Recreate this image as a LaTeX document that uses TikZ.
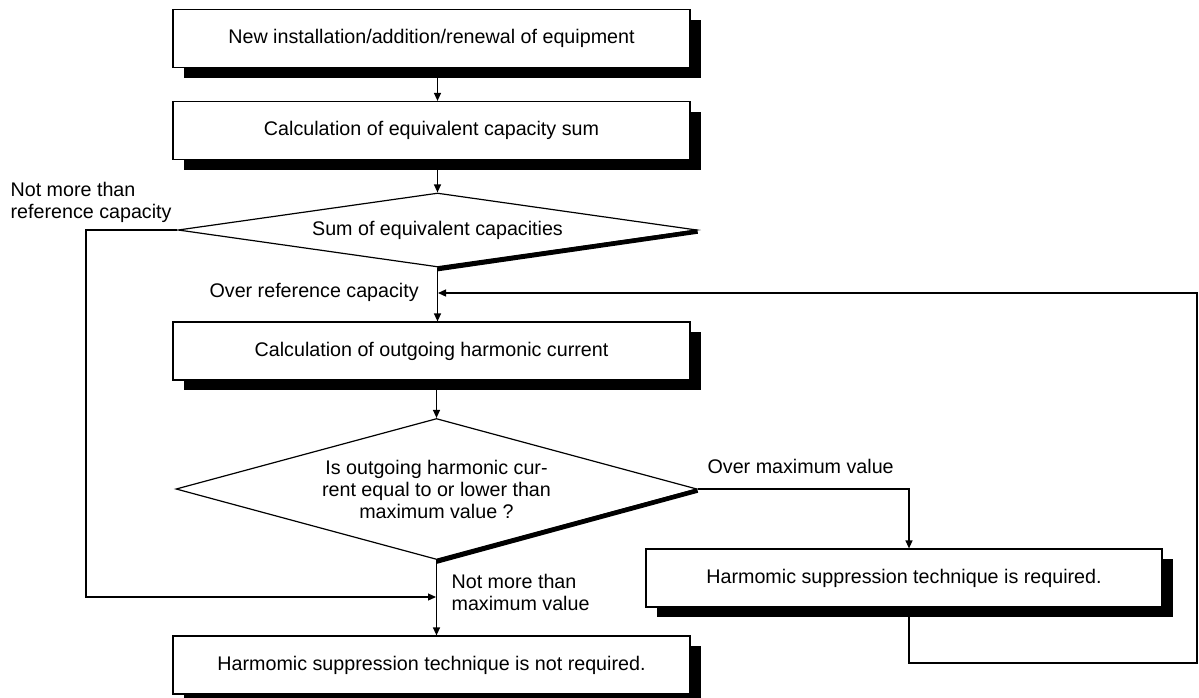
\documentclass[tikz,border=0pt]{standalone}
\usepackage{fontspec}
\setmainfont{Liberation Sans}
\usetikzlibrary{arrows.meta,shapes.geometric,shadows}
\begin{document}
\begin{tikzpicture}[x=1pt,y=-1pt,
  font=\fontsize{19.7}{22}\selectfont,
  line width=1.2pt,
  box/.style={draw, fill=white, rectangle, minimum width=517pt, minimum height=58pt, inner sep=0pt,
    drop shadow={shadow xshift=10.5pt, shadow yshift=-10pt, fill=black, opacity=1}},
  dia/.style={draw, fill=white, diamond, inner sep=0pt},
  thickedge/.style={line width=4.5pt, line cap=butt},
  lbl/.style={inner sep=0pt, align=left},
  arr/.style={-{Triangle[length=8pt,width=7pt]}}]
\useasboundingbox (0,0) rectangle (1199,697);

\node[box] (b1) at (431.5,38.5) {New installation/addition/renewal of equipment};
\node[box] (b2) at (431.5,130.5) {Calculation of equivalent capacity sum};
\node[dia, minimum width=519pt, minimum height=74pt, aspect=7] (d1) at (437.5,230) {Sum of equivalent capacities};
\node[box] (b3) at (431.5,351) {Calculation of outgoing harmonic current};
\node[dia, minimum width=521pt, minimum height=141pt, aspect=3.7, align=center] (d2) at (436.5,489)
  {Is outgoing harmonic cur-\\rent equal to or lower than\\maximum value ?};
\node[box, minimum width=516pt] (b4) at (904,578) {Harmomic suppression technique is required.};
\node[box] (b5) at (431.5,665) {Harmomic suppression technique is not required.};

% thick lower-right edges of the diamonds
\draw[thickedge] ([yshift=-1.5pt]d1.south) -- ([yshift=-1.5pt]d1.east);
\draw[thickedge] ([yshift=-1.5pt]d2.south) -- ([yshift=-1.5pt]d2.east);

% labels
\node[lbl, anchor=west] (l1) at (10,202) {Not more than\\reference capacity};
\node[lbl, anchor=west] (l2) at (209,292) {Over reference capacity};
\node[lbl, anchor=west] (l3) at (707,466) {Over maximum value};
\node[lbl, anchor=west] (l4) at (451,592) {Not more than\\maximum value};

% helper coordinates
\coordinate (k4) at (909,489);
\coordinate (lp1) at (909,663);
\coordinate (lp2) at (1197,663);
\coordinate (lp3) at (1197,293);
\coordinate (j1) at (438,293);
\coordinate (lp4) at (86,230);
\coordinate (lp5) at (86,597);
\coordinate (j2) at (436,597);

% main flow
\draw[arr] (b1.south -| d1.north) -- (b2.north -| d1.north);
\draw[arr] (b2.south -| d1.north) -- (d1.north);
\draw[arr] (d1.south) -- (b3.north -| d1.south);
\draw[arr] (b3.south -| d2.north) -- (d2.north);
\draw[arr] (d2.south) -- (b5.north -| d2.south);
\draw[arr] (d2.east) -- (k4) -- (b4.north -| k4);
\draw[arr] (b4.south -| k4) -- (lp1) -- (lp2) -- (lp3) -- (j1);
\draw[arr] (d1.west) -- (lp4) -- (lp5) -- (j2);
\end{tikzpicture}
\end{document}
